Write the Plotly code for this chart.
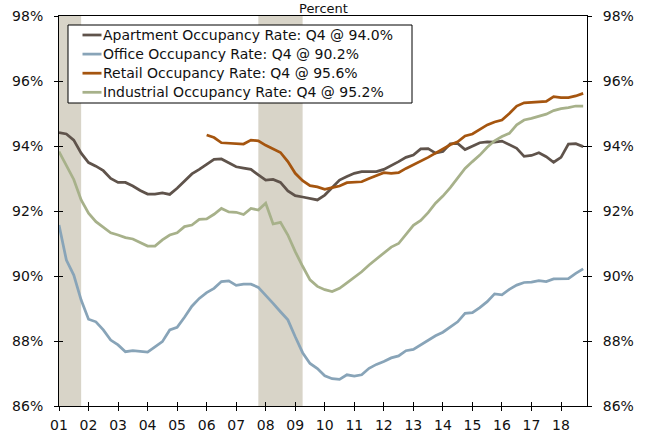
import plotly.graph_objects as go

# ---- data (quarterly, 2001Q1 .. 2018Q4) ----
years = list(range(2001, 2019))
quarter_labels = [f"{y}Q{q}" for y in years for q in range(1, 5)]

apartment = [94.41, 94.37, 94.18, 93.78, 93.49, 93.38, 93.24, 93.00, 92.88, 92.88,
             92.77, 92.63, 92.52, 92.52, 92.56, 92.51, 92.70, 92.93, 93.14, 93.28,
             93.44, 93.59, 93.60, 93.49, 93.36, 93.32, 93.28, 93.11, 92.95, 92.97,
             92.88, 92.62, 92.47, 92.43, 92.38, 92.34, 92.49, 92.72, 92.95, 93.06,
             93.16, 93.21, 93.21, 93.21, 93.28, 93.39, 93.52, 93.65, 93.72, 93.91,
             93.92, 93.78, 93.83, 94.07, 94.08, 93.89, 94.00, 94.10, 94.13, 94.12,
             94.15, 94.05, 93.93, 93.68, 93.71, 93.79, 93.67, 93.50, 93.65, 94.06,
             94.07, 93.98]

office = [91.57, 90.49, 90.03, 89.26, 88.67, 88.59, 88.34, 88.03, 87.88, 87.67,
          87.70, 87.68, 87.66, 87.82, 87.98, 88.34, 88.42, 88.73, 89.07, 89.31,
          89.49, 89.62, 89.83, 89.85, 89.71, 89.75, 89.75, 89.65, 89.42, 89.16,
          88.90, 88.65, 88.13, 87.64, 87.31, 87.15, 86.93, 86.84, 86.82, 86.96,
          86.92, 86.96, 87.16, 87.28, 87.37, 87.48, 87.54, 87.70, 87.74, 87.88,
          88.03, 88.16, 88.27, 88.42, 88.59, 88.85, 88.87, 89.03, 89.21, 89.45,
          89.42, 89.59, 89.72, 89.80, 89.81, 89.86, 89.83, 89.91, 89.92, 89.92,
          90.08, 90.22]

retail = [None] * 20 + [
          94.34, 94.26, 94.10, 94.08, 94.07, 94.06, 94.18, 94.16, 94.02, 93.91,
          93.80, 93.52, 93.16, 92.93, 92.78, 92.74, 92.67, 92.72, 92.77, 92.87,
          92.88, 92.90, 93.00, 93.08, 93.18, 93.16, 93.18, 93.31, 93.42, 93.55,
          93.65, 93.78, 93.90, 94.04, 94.13, 94.31, 94.37, 94.52, 94.65, 94.74,
          94.80, 95.00, 95.23, 95.33, 95.35, 95.36, 95.37, 95.52, 95.49, 95.49,
          95.54, 95.62]

industrial = [93.83, 93.42, 92.97, 92.34, 91.93, 91.67, 91.50, 91.33, 91.26, 91.18,
              91.14, 91.02, 90.92, 90.92, 91.11, 91.26, 91.33, 91.52, 91.57, 91.74,
              91.76, 91.90, 92.08, 91.97, 91.96, 91.89, 92.08, 92.03, 92.24, 91.60,
              91.65, 91.26, 90.75, 90.30, 89.88, 89.68, 89.58, 89.52, 89.62, 89.79,
              89.96, 90.13, 90.34, 90.52, 90.69, 90.89, 91.00, 91.28, 91.56, 91.71,
              91.95, 92.24, 92.46, 92.72, 93.00, 93.31, 93.52, 93.72, 93.96, 94.16,
              94.29, 94.39, 94.65, 94.80, 94.85, 94.92, 94.98, 95.09, 95.15, 95.18,
              95.23, 95.23]

series_names = ["Apartment Occupancy Rate: Q4 @ 94.0%",
                "Office Occupancy Rate: Q4 @ 90.2%",
                "Retail Occupancy Rate: Q4 @ 95.6%",
                "Industrial Occupancy Rate: Q4 @ 95.2%"]
series_colors = ["#5f534b", "#88a4b8", "#a5550f", "#a7b18a"]

# recessions (start quarter, end quarter)
recessions = [("2001Q1", "2001Q4"), ("2007Q4", "2009Q2")]

tick_labels = [f"{y % 100:02d}" for y in years]
y_ticks = [86, 88, 90, 92, 94, 96, 98]
y_tick_text = [f"{v}%" for v in y_ticks]


def q_to_num(label):
    y, q = label.split("Q")
    return int(y) + (int(q) - 1) / 4.0


x = [q_to_num(l) for l in quarter_labels]
x_range = [2001, 2018.88]
y_range = [86, 98]

FONT = "DejaVu Sans, Verdana, sans-serif"
W, H = 645, 432
ML, MR, MT, MB = 59, 58, 16, 26
PW, PH = W - ML - MR, H - MT - MB


def px_x(p):  # pixel -> paper x
    return (p - ML) / PW


def px_y(p):  # pixel -> paper y
    return 1 - (p - MT) / PH


fig = go.Figure()
for name, vals, col in zip(series_names, [apartment, office, retail, industrial], series_colors):
    fig.add_trace(go.Scatter(x=x, y=vals, name=name, mode="lines",
                             line=dict(color=col, width=2.75),
                             hoverinfo="skip", showlegend=False))

# invisible trace for overlay axes (ticks on both sides / right labels)
fig.add_trace(go.Scatter(x=x, y=apartment, xaxis="x2", yaxis="y2", mode="lines",
                         line=dict(width=0), opacity=0, showlegend=False, hoverinfo="skip"))

for s, e in recessions:
    fig.add_shape(type="rect", xref="x", yref="paper",
                  x0=q_to_num(s), x1=q_to_num(e), y0=0, y1=1,
                  fillcolor="#d8d4c8", line=dict(width=0), layer="below")

# ---- legend box (drawn manually to match the reference layout) ----
LEG_L, LEG_R, LEG_T, LEG_B = 68, 412, 25, 103
ROW0, ROW_STEP = 35, 19.1
LINE_X0, LINE_X1, TEXT_X = 82.5, 101.5, 101.5

fig.add_shape(type="rect", xref="paper", yref="paper",
              x0=px_x(LEG_L), x1=px_x(LEG_R), y0=px_y(LEG_B), y1=px_y(LEG_T),
              fillcolor="white", line=dict(color="black", width=1), layer="above")
for k, (name, col) in enumerate(zip(series_names, series_colors)):
    ry = ROW0 + k * ROW_STEP
    fig.add_shape(type="line", xref="paper", yref="paper",
                  x0=px_x(LINE_X0), x1=px_x(LINE_X1), y0=px_y(ry), y1=px_y(ry),
                  line=dict(color=col, width=2.75), layer="above")
    fig.add_annotation(text=name, xref="paper", yref="paper",
                       x=px_x(TEXT_X), y=px_y(ry), xanchor="left", yanchor="middle",
                       showarrow=False, borderpad=0,
                       font=dict(family=FONT, size=14, color="#111111"))

axis_font = dict(family=FONT, size=14, color="#111111")

fig.update_layout(
    width=W, height=H,
    margin=dict(l=ML, r=MR, t=MT, b=MB, autoexpand=False),
    paper_bgcolor="white", plot_bgcolor="white",
    font=dict(family=FONT, size=14, color="#111111"),
    showlegend=False,
    xaxis=dict(range=x_range, tickvals=years, ticktext=tick_labels,
               ticks="outside", ticklen=4, tickcolor="black", tickwidth=1,
               showline=True, linecolor="black", linewidth=1, mirror=True,
               showgrid=False, zeroline=False, tickfont=axis_font,
               ticklabelstandoff=2, automargin=False),
    xaxis2=dict(range=x_range, overlaying="x", side="bottom", anchor="y2",
                tickvals=years, ticks="inside", ticklen=4, tickcolor="black",
                showticklabels=False, showline=False, showgrid=False, zeroline=False,
                automargin=False),
    yaxis=dict(range=y_range, tickvals=y_ticks, ticktext=y_tick_text,
               ticks="outside", ticklen=4, tickcolor="black", tickwidth=1,
               showline=True, linecolor="black", linewidth=1, mirror="ticks",
               showgrid=False, zeroline=False, tickfont=axis_font,
               ticklabelstandoff=8, automargin=False),
    yaxis2=dict(range=y_range, overlaying="y", side="right", anchor="x2",
                tickvals=y_ticks, ticktext=y_tick_text,
                ticks="inside", ticklen=4, tickcolor="black",
                showline=True, linecolor="black", linewidth=1, mirror="ticks",
                showgrid=False, zeroline=False, tickfont=axis_font,
                ticklabelstandoff=12, automargin=False),
)

fig.add_annotation(text="Percent", xref="paper", yref="paper", x=0.5, y=1,
                   xanchor="center", yanchor="bottom", yshift=-1, showarrow=False,
                   borderpad=0,
                   font=dict(family=FONT, size=13, color="#111111"))

fig.write_html("out.html", config={"displayModeBar": False},
               post_script="document.body.style.margin='0';document.body.style.overflow='hidden';")
